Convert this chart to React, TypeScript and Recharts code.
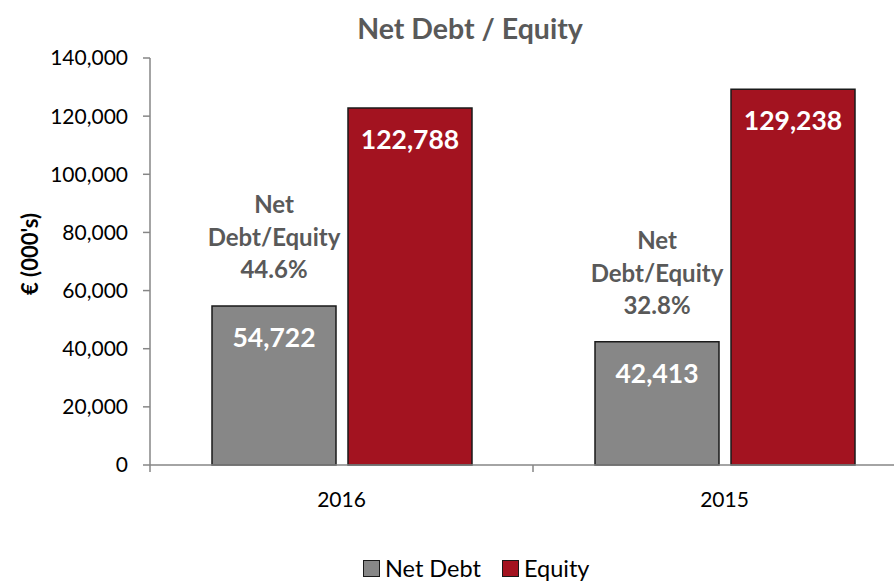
import React from 'react';
import { BarChart, Bar, XAxis, YAxis, Legend, LabelList, Label } from 'recharts';

const categories = ['2016', '2015'];
const netDebt = [54722, 42413];
const equity = [122788, 129238];
const ratios = ['44.6%', '32.8%'];
const yTicks = [0, 20000, 40000, 60000, 80000, 100000, 120000, 140000];

const data = categories.map((c, i) => ({
  year: c,
  netDebt: netDebt[i],
  equity: equity[i],
  ratio: ratios[i],
}));

const FONT = 'Lato, "Open Sans", sans-serif';
const GRAY = '#878787';
const RED = '#A31320';
const AXIS = '#868686';
const TEXT_GRAY = '#595959';

const fmt = (v: number) => v.toLocaleString('en-US');

const XTick = (props: any) => {
  const { x, y, payload, index, visibleTicksCount } = props;
  const half = payload && payload.offset ? payload.offset : 191.5;
  const last = index === (visibleTicksCount ?? 2) - 1;
  return (
    <g>
      <line x1={x - half} x2={x - half} y1={y} y2={y + 7} stroke={AXIS} strokeWidth={1.5} />
      {last && <line x1={x + half} x2={x + half} y1={y} y2={y + 7} stroke={AXIS} strokeWidth={1.5} />}
      <text x={x} y={y + 33} textAnchor="middle" dominantBaseline="central" fill="#000" fontSize={21} fontFamily={FONT}>
        {payload.value}
      </text>
    </g>
  );
};

const RatioLabel = (props: any) => {
  const { x, y, width, index } = props;
  const cx = x + width / 2;
  const lines = ['Net', 'Debt/Equity', ratios[index]];
  const offs = [-102, -69, -37];
  return (
    <g>
      {lines.map((t, i) => (
        <text key={i} x={cx} y={y + offs[i]} textAnchor="middle" dominantBaseline="central" fill={TEXT_GRAY} fontSize={24} fontWeight={700} fontFamily={FONT}>
          {t}
        </text>
      ))}
    </g>
  );
};

const ValueLabel = (props: any) => {
  const { x, y, width, value } = props;
  return (
    <text x={x + width / 2} y={y + 31} textAnchor="middle" dominantBaseline="central" fill="#fff" fontSize={26.5} fontWeight={700} fontFamily={FONT}>
      {fmt(value)}
    </text>
  );
};

const LegendContent = (props: any) => {
  const items = [
    { name: 'Net Debt', color: GRAY },
    { name: 'Equity', color: RED },
  ];
  return (
    <div style={{ display: 'flex', alignItems: 'center', fontFamily: FONT, fontSize: 23.5, color: '#000', lineHeight: '26px' }}>
      {items.map((it, i) => (
        <div key={i} style={{ display: 'flex', alignItems: 'center', marginRight: i === 0 ? 21 : 0 }}>
          <div style={{ width: 15, height: 15, background: it.color, border: '1.5px solid #1a1a1a', marginRight: 5 }} />
          <span>{it.name}</span>
        </div>
      ))}
    </div>
  );
};

const YLabel = (props: any) => {
  const cx = 29;
  const cy = 254;
  return (
    <text x={cx} y={cy} transform={`rotate(-90 ${cx} ${cy})`} textAnchor="middle" dominantBaseline="central" fill="#000" fontSize={22} fontWeight={700} fontFamily={FONT}>
      € (000's)
    </text>
  );
};

export default function App() {
  return (
    <div style={{ position: 'absolute', left: 0, top: 0, width: 894, height: 581, overflow: 'hidden', background: '#fff' }}>
      <div style={{ position: 'absolute', left: 0, top: 8, width: 940, fontFamily: FONT, fontWeight: 700, fontSize: 28.5, color: TEXT_GRAY, lineHeight: '40px' }}>
        <span style={{ position: 'absolute', left: 470, transform: 'translateX(-50%)', whiteSpace: 'nowrap' }}>Net Debt / Equity</span>
      </div>
      <BarChart
        width={920}
        height={581}
        data={data}
        margin={{ top: 58, right: 4, bottom: 0, left: 20 }}
        barGap={12}
        barSize={124}
      >
        <XAxis
          dataKey="year"
          tick={<XTick />}
          tickLine={false}
          tickSize={0}
          tickMargin={0}
          axisLine={{ stroke: AXIS, strokeWidth: 1.5 }}
          height={90}
          interval={0}
        />
        <YAxis
          domain={[0, 140000]}
          ticks={yTicks}
          tickFormatter={fmt}
          width={130}
          tickSize={7}
          tickMargin={15}
          axisLine={{ stroke: AXIS, strokeWidth: 1.5 }}
          tickLine={{ stroke: AXIS, strokeWidth: 1.5 }}
          tick={{ fill: '#000', fontSize: 21, fontFamily: FONT }}
          interval={0}
        >
          <Label content={<YLabel />} />
        </YAxis>
        <Legend
          verticalAlign="bottom"
          wrapperStyle={{ position: 'absolute', left: 363, top: 555, width: 280, height: 26 }}
          content={<LegendContent />}
        />
        <Bar dataKey="netDebt" name="Net Debt" fill={GRAY} stroke="#1a1a1a" strokeWidth={1.5} isAnimationActive={false}>
          <LabelList dataKey="netDebt" content={<ValueLabel />} />
          <LabelList dataKey="ratio" content={<RatioLabel />} />
        </Bar>
        <Bar dataKey="equity" name="Equity" fill={RED} stroke="#1a1a1a" strokeWidth={1.5} isAnimationActive={false}>
          <LabelList dataKey="equity" content={<ValueLabel />} />
        </Bar>
      </BarChart>
    </div>
  );
}
